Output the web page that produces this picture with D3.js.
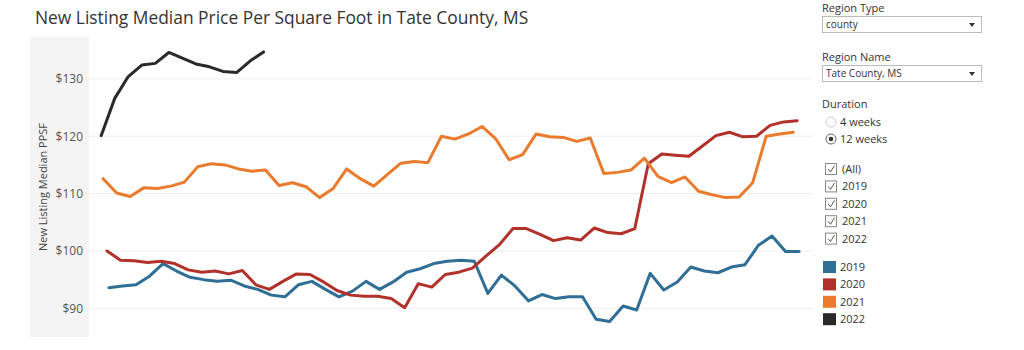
<!DOCTYPE html>
<html>
<head>
<meta charset="utf-8">
<script src="https://cdn.jsdelivr.net/npm/d3@7"></script>
<style>
  body { margin: 0; background: #fff; font-family: "Open Sans", "Noto Sans", sans-serif; }
  svg { display: block; }
</style>
</head>
<body>
<div id="chart"></div>
<script>
// years and the first week-ending date of each series
const years = ["2019", "2020", "2021", "2022"];
const startDates = ["2019-01-06", "2020-01-05", "2021-01-03", "2022-01-02"];
const colors = ["#2f6f96", "#b2312a", "#ea7b2d", "#2a2a2a"];

// weekly values (12 week median)
const v2019 = [93.6, 93.9, 94.1, 95.6, 97.8, 96.5, 95.4, 95.0, 94.7, 94.9, 93.9, 93.3, 92.3,
  92.0, 94.1, 94.7, 93.3, 92.0, 93.0, 94.7, 93.3, 94.6, 96.3, 96.9, 97.8, 98.2, 98.4, 98.2,
  92.6, 95.8, 93.9, 91.3, 92.4, 91.7, 92.0, 92.0, 88.1, 87.7, 90.4, 89.7, 96.1, 93.2, 94.6,
  97.2, 96.5, 96.2, 97.2, 97.6, 101.0, 102.6, 99.9, 99.9];
const v2020 = [100.0, 98.4, 98.3, 98.0, 98.2, 97.8, 96.7, 96.3, 96.5, 96.0, 96.6, 94.1, 93.3,
  94.7, 96.0, 95.9, 94.6, 93.1, 92.3, 92.1, 92.1, 91.7, 90.1, 94.3, 93.7, 95.9, 96.3, 97.0,
  99.1, 101.1, 103.9, 103.9, 102.9, 101.8, 102.3, 101.9, 104.0, 103.2, 103.0, 103.9, 115.2,
  116.9, 116.7, 116.5, 118.3, 120.1, 120.7, 119.9, 120.0, 121.9, 122.5, 122.7];
const v2021 = [112.6, 110.1, 109.5, 111.0, 110.9, 111.3, 112.0, 114.7, 115.2, 115.0, 114.3,
  113.9, 114.1, 111.4, 111.9, 111.2, 109.3, 110.9, 114.3, 112.6, 111.3, 113.3, 115.3, 115.6,
  115.4, 120.0, 119.5, 120.4, 121.7, 119.6, 115.9, 116.8, 120.4, 119.9, 119.8, 119.1, 119.7,
  113.5, 113.7, 114.1, 116.2, 113.0, 111.9, 112.9, 110.4, 109.8, 109.3, 109.4, 111.9, 120.0,
  120.4, 120.7];
const v2022 = [120.1, 126.6, 130.4, 132.4, 132.7, 134.6, 133.6, 132.6, 132.1, 131.3, 131.1,
  133.1, 134.7];
const values = [v2019, v2020, v2021, v2022];

const yTicks = [90, 100, 110, 120, 130];

const W = 1024, H = 350;
const plot = {left: 89, right: 813, top: 37, bottom: 337};

const svg = d3.select("#chart").append("svg")
  .attr("width", W).attr("height", H);

// title
svg.append("text")
  .attr("x", 35).attr("y", 24)
  .style("font-size", "17.4px").style("fill", "#333")
  .text("New Listing Median Price Per Square Foot in Tate County, MS");

// x = day of year, y = price
const x = d3.scaleLinear().domain([-5.3, 369.2]).range([plot.left, plot.right]);
const y = d3.scaleLinear().domain([85, 137.3]).range([plot.bottom, plot.top]);

const parse = d3.timeParse("%Y-%m-%d");
const series = years.map((yr, i) => {
  const start = parse(startDates[i]);
  const jan1 = new Date(start.getFullYear(), 0, 1);
  return {
    year: yr,
    color: colors[i],
    points: values[i].map((v, k) => {
      const dt = d3.timeDay.offset(start, k * 7);
      return {doy: d3.timeDay.count(jan1, dt), v: v};
    })
  };
});

// axis band
svg.append("rect")
  .attr("x", 30).attr("y", plot.top)
  .attr("width", plot.left - 30).attr("height", plot.bottom - plot.top)
  .attr("fill", "#f4f4f4");

// gridlines
svg.append("g")
  .selectAll("line").data(yTicks).join("line")
  .attr("x1", plot.left).attr("x2", plot.right)
  .attr("y1", d => y(d)).attr("y2", d => y(d))
  .attr("stroke", "#eeeeee").attr("stroke-width", 1);

// y axis
const yAxis = svg.append("g")
  .attr("transform", `translate(${plot.left},0)`)
  .call(d3.axisLeft(y).tickValues(yTicks).tickFormat(d => "$" + d).tickSize(0).tickPadding(6));
yAxis.select(".domain").remove();
yAxis.selectAll("text")
  .style("font-size", "12px").style("fill", "#555")
  .style("font-family", "'Open Sans', sans-serif");

svg.append("text")
  .attr("transform", `translate(47,${(plot.top + plot.bottom) / 2}) rotate(-90)`)
  .attr("text-anchor", "middle")
  .style("font-size", "11px").style("fill", "#444")
  .text("New Listing Median PPSF");

// lines
const line = d3.line()
  .x(d => x(d.doy))
  .y(d => y(d.v));

svg.append("g")
  .selectAll("path").data(series).join("path")
  .attr("fill", "none")
  .attr("stroke", d => d.color)
  .attr("stroke-width", 3)
  .attr("stroke-linejoin", "round")
  .attr("stroke-linecap", "round")
  .attr("d", d => line(d.points));

// right side controls
const side = svg.append("g").style("font-size", "11px").style("fill", "#333");

const dropdowns = [
  {label: "Region Type", value: "county", y: 12},
  {label: "Region Name", value: "Tate County, MS", y: 61}
];
dropdowns.forEach(dd => {
  side.append("text").attr("x", 822).attr("y", dd.y).text(dd.label);
  side.append("rect")
    .attr("x", 822.5).attr("y", dd.y + 4.5).attr("width", 159).attr("height", 16)
    .attr("fill", "#fff").attr("stroke", "#bbb");
  side.append("text").attr("x", 826).attr("y", dd.y + 16)
    .style("font-size", "10px").text(dd.value);
  side.append("path")
    .attr("d", `M969,${dd.y + 11}h6l-3,4z`).attr("fill", "#333");
});

side.append("text").attr("x", 822).attr("y", 108).text("Duration");
const radios = [{label: "4 weeks", on: false}, {label: "12 weeks", on: true}];
radios.forEach((r, i) => {
  const cy = 122 + i * 17;
  side.append("circle").attr("cx", 831).attr("cy", cy).attr("r", 5)
    .attr("fill", "#fff").attr("stroke", r.on ? "#666" : "#ccc");
  if (r.on) side.append("circle").attr("cx", 831).attr("cy", cy).attr("r", 2.3).attr("fill", "#333");
  side.append("text").attr("x", 840).attr("y", cy + 4).text(r.label);
});

const checks = ["(All)"].concat(years);
checks.forEach((c, i) => {
  const cy = 169 + i * 17.4;
  side.append("rect").attr("x", 825.5).attr("y", cy - 5.5).attr("width", 11).attr("height", 11)
    .attr("fill", "#fff").attr("stroke", "#888");
  side.append("path").attr("d", `M828,${cy}l2.5,3l4,-6.5`)
    .attr("fill", "none").attr("stroke", "#555").attr("stroke-width", 1);
  side.append("text").attr("x", 842).attr("y", cy + 4).text(c);
});

years.forEach((yr, i) => {
  const cy = 267 + i * 17.4;
  side.append("rect").attr("x", 823).attr("y", cy - 6).attr("width", 13).attr("height", 12)
    .attr("fill", colors[i]);
  side.append("text").attr("x", 840).attr("y", cy + 4).text(yr);
});
</script>
</body>
</html>
